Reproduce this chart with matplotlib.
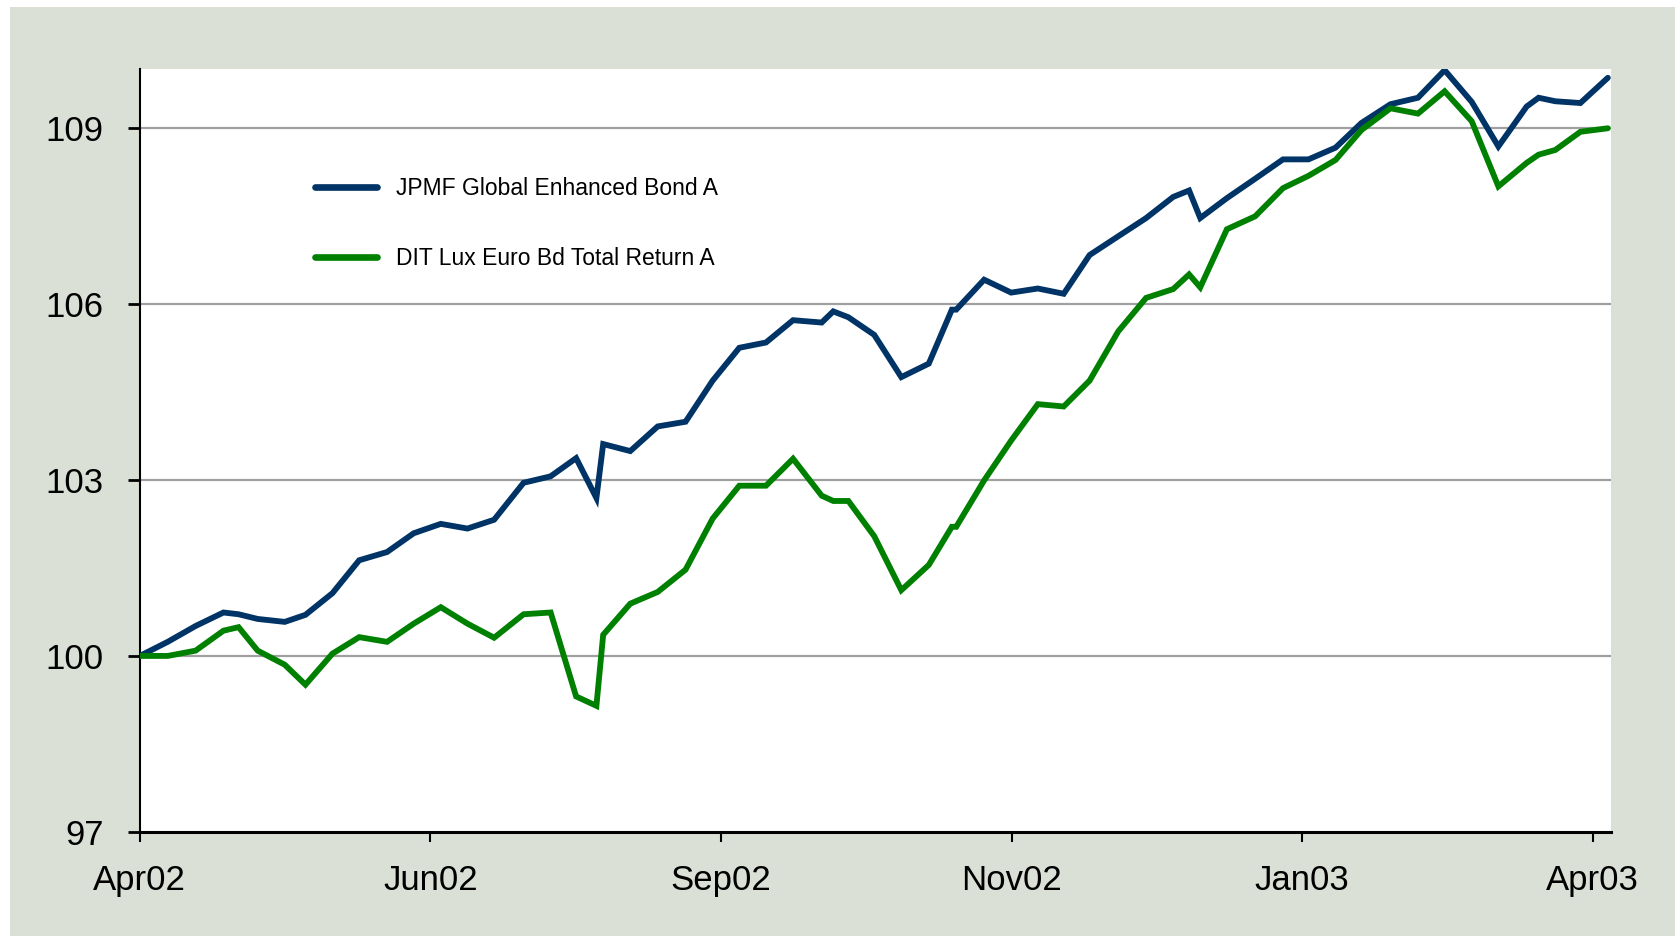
import matplotlib.pyplot as plt
from matplotlib.patches import Rectangle

## Data (x = days from start of series)
days = [0, 7, 14, 21, 24.8, 29.6, 36.4, 41.6, 48.4, 55.1, 62.1, 68.8,
        75.6, 82.3, 89.0, 96.4, 103.2, 109.6, 114.7, 116.4, 123.2, 130.1,
        137.1, 143.9, 150.6, 157.3, 164.1, 171.3, 174.2, 178.0, 184.5, 191.3,
        198.2, 204.0, 205.1, 212.1, 218.9, 225.6, 232.1, 238.6, 245.8, 252.8,
        259.6, 263.6, 266.4, 273.1, 280.2, 287.2, 293.6, 300.4, 306.9, 314.2,
        321.1, 327.8, 334.6, 341.3, 348.4, 351.4, 355.6, 361.9, 368.8]

jpmf = [100.00, 100.24, 100.51, 100.74, 100.71, 100.63, 100.58, 100.70,
        101.07, 101.63, 101.77, 102.09, 102.25, 102.17, 102.32, 102.95,
        103.06, 103.37, 102.69, 103.61, 103.49, 103.91, 103.99, 104.69,
        105.25, 105.34, 105.72, 105.68, 105.87, 105.77, 105.47, 104.75,
        104.98, 105.90, 105.90, 106.41, 106.19, 106.26, 106.17, 106.83,
        107.15, 107.46, 107.82, 107.93, 107.46, 107.80, 108.13, 108.46,
        108.46, 108.66, 109.08, 109.40, 109.51, 109.98, 109.44, 108.68,
        109.36, 109.51, 109.45, 109.42, 109.85]

ditlux = [100.00, 100.00, 100.09, 100.43, 100.49, 100.09, 99.85, 99.51,
          100.04, 100.32, 100.24, 100.55, 100.83, 100.55, 100.31, 100.71,
          100.74, 99.31, 99.15, 100.36, 100.89, 101.09, 101.47, 102.34,
          102.90, 102.90, 103.36, 102.73, 102.64, 102.64, 102.04, 101.12,
          101.55, 102.20, 102.20, 102.99, 103.67, 104.29, 104.25, 104.69,
          105.53, 106.10, 106.25, 106.50, 106.28, 107.27, 107.49, 107.97,
          108.18, 108.45, 108.96, 109.33, 109.24, 109.62, 109.11, 108.00,
          108.40, 108.54, 108.62, 108.93, 108.99]

labels = ['JPMF Global Enhanced Bond A', 'DIT Lux Euro Bd Total Return A']
x_ticks = [0, 73, 146, 219, 292, 365]
x_ticklabels = ['Apr02', 'Jun02', 'Sep02', 'Nov02', 'Jan03', 'Apr03']
y_ticks = [97, 100, 103, 106, 109]

plt.rcParams['font.family'] = ['Liberation Sans Narrow', 'Liberation Sans', 'DejaVu Sans']

fig = plt.figure(figsize=(16.75, 9.36), dpi=100)
fig.patch.set_facecolor('white')
fig.patches.append(Rectangle((10 / 1675, 0), 1 - 10 / 1675, 1 - 7 / 936,
                             transform=fig.transFigure, facecolor='#dbe0d7',
                             edgecolor='none', zorder=-10))

ax = fig.add_axes([0.0835, 0.1111, 0.8783, 0.8152])
ax.set_facecolor('white')

ax.plot(days, jpmf, color='#003366', linewidth=4.2, solid_capstyle='round',
        solid_joinstyle='miter', label=labels[0], zorder=3)
ax.plot(days, ditlux, color='#008000', linewidth=4.2, solid_capstyle='round',
        solid_joinstyle='miter', label=labels[1], zorder=3)

ax.set_xlim(0, 369.6)
ax.set_ylim(97, 110)
ax.set_xticks(x_ticks)
ax.set_xticklabels(x_ticklabels)
ax.set_yticks(y_ticks)
ax.set_yticklabels([str(v) for v in y_ticks])
for v in y_ticks[1:]:
    ax.axhline(v, color='#a0a0a0', linewidth=1.6, zorder=1)

for s in ['top', 'right']:
    ax.spines[s].set_visible(False)
ax.spines['left'].set_linewidth(1.5)
ax.spines['bottom'].set_linewidth(2.2)
ax.tick_params(axis='x', direction='out', length=7, width=1.5, pad=16, labelsize=25)
ax.tick_params(axis='y', direction='out', length=9, width=2, pad=17, labelsize=25)

leg = ax.legend(loc='upper left', bbox_to_anchor=(0.188, 0.8104),
                bbox_transform=fig.transFigure, frameon=False, fontsize=16.5,
                handlelength=2.7, handletextpad=0.85, labelspacing=2.05,
                borderpad=0, borderaxespad=0)
for line in leg.get_lines():
    line.set_linewidth(4.8)

fig.savefig('out.png', dpi=100)
